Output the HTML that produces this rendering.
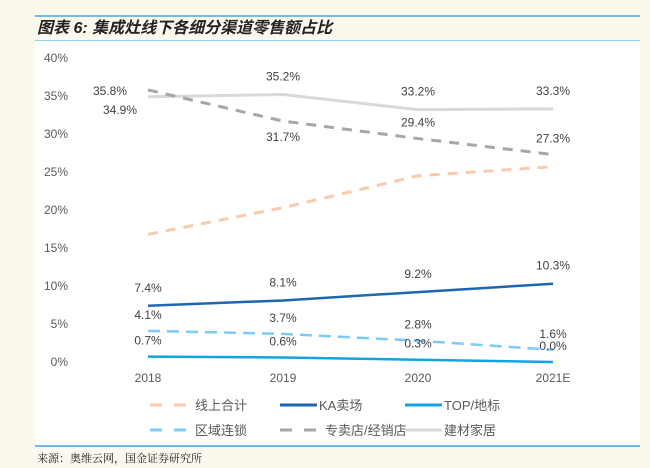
<!DOCTYPE html>
<html><head><meta charset="utf-8"><style>
body{margin:0;width:650px;height:468px;background:#fcf8ee;font-family:"Liberation Sans","Noto Sans CJK SC",sans-serif;overflow:hidden}
svg{position:absolute;left:0;top:0}
</style></head><body>
<svg width="650" height="468">
<rect x="35" y="41" width="605" height="404" fill="#fff"/>
<line x1="35" y1="16" x2="640" y2="16" stroke="#3fa9e0" stroke-width="1.5"/>
<line x1="35" y1="40.5" x2="640" y2="40.5" stroke="#8fd0f0" stroke-width="1"/>
<line x1="35" y1="446" x2="640" y2="446" stroke="#3fa9e0" stroke-width="1.5"/>
<text x="37" y="33" font-size="16" font-weight="bold" font-style="italic" fill="#222" font-family="'Liberation Sans','Noto Sans CJK SC',sans-serif">图表 6: 集成灶线下各细分渠道零售额占比</text>
<text x="37" y="462" font-size="11" fill="#222" font-family="'Noto Serif CJK SC',serif">来源：奥维云网，国金证券研究所</text>
<g id="yaxis"></g><g id="xaxis"></g><g id="series"></g><g id="labels"></g><g id="legend"></g>
</svg>
<script>
const years=["2018","2019","2020","2021E"];
const yTicks=[0,5,10,15,20,25,30,35,40];
const online=[16.8,20.3,24.5,25.7];
const ka=[7.4,8.1,9.2,10.3];
const top_=[0.7,0.6,0.3,0.0];
const regional=[4.1,3.7,2.8,1.6];
const dealer=[35.8,31.7,29.4,27.3];
const building=[34.9,35.2,33.2,33.3];
const NS="http://www.w3.org/2000/svg";
const X0=148,DX=135,Y0=362,PY=7.6;
const xs=i=>X0+i*DX, ys=v=>Y0-v*PY;
function mk(t,a,p){const e=document.createElementNS(NS,t);for(const k in a)e.setAttribute(k,a[k]);document.querySelector(p).appendChild(e);return e;}
yTicks.forEach(v=>{const t=mk("text",{x:68,y:ys(v)+4,"font-size":12,fill:"#595959","text-anchor":"end"},"#yaxis");t.textContent=v+"%";

});
years.forEach((y,i)=>{const t=mk("text",{x:xs(i),y:382,"font-size":12,fill:"#595959","text-anchor":"middle"},"#xaxis");t.textContent=y;

});
const S=[
 {d:building,c:"#d9d9d9",w:3,da:"",n:"建材家居",k:"series-building"},
 {d:dealer,c:"#a6a6a6",w:3,da:"10,8",n:"专卖店/经销店",k:"series-dealer"},
 {d:online,c:"#f8cbad",w:3,da:"10,8",n:"线上合计",k:"series-online"},
 {d:ka,c:"#1f66b0",w:2.5,da:"",n:"KA卖场",k:"series-ka"},
 {d:regional,c:"#7ccbf5",w:2.5,da:"12,7",n:"区域连锁",k:"series-regional"},
 {d:top_,c:"#13a3e0",w:2.5,da:"",n:"TOP/地标",k:"series-top"}];
S.forEach(s=>{const p=mk("polyline",{points:s.d.map((v,i)=>xs(i)+","+ys(v)).join(" "),fill:"none",stroke:s.c,"stroke-width":s.w,"stroke-dasharray":s.da},"#series");

});
function lab(v,i,dx,dy,anchor){const t=mk("text",{x:xs(i)+dx,y:ys(v)+dy,"font-size":12,fill:"#404040","text-anchor":anchor||"middle"},"#labels");t.textContent=v.toFixed(1)+"%";

}
ka.forEach((v,i)=>lab(v,i,0,-14));
regional.forEach((v,i)=>lab(v,i,0,-12));
top_.forEach((v,i)=>lab(v,i,0,-12));
building.forEach((v,i)=>{if(i==0)lab(v,i,-28,17);else lab(v,i,0,-14);});
dealer.forEach((v,i)=>{if(i==0)lab(v,i,-38,5);else if(i==1)lab(v,i,0,20);else lab(v,i,0,-12);});
const L=[[2,150,405],[3,280,405],[5,405,405],[4,150,430],[1,280,430],[0,405,430]];
L.forEach(([si,x,y])=>{const s=S[si];
const l=mk("line",{x1:x,y1:y,x2:x+(s.da?45:37),y2:y,stroke:s.c,"stroke-width":3,"stroke-dasharray":s.da?"12,12":""},"#legend");


const t=mk("text",{x:x+(s.da?45:39),y:y+5,"font-size":13,fill:"#595959"},"#legend");t.textContent=s.n;

});
</script>
</body></html>
